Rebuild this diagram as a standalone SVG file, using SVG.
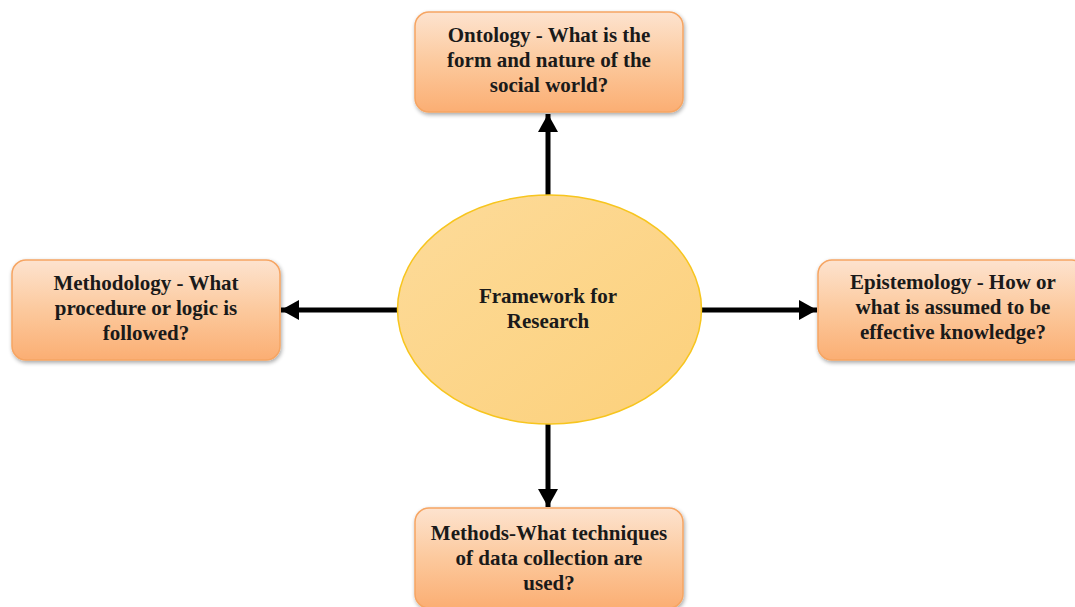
<svg xmlns="http://www.w3.org/2000/svg" width="1075" height="607" viewBox="0 0 1075 607">
<style>
.box{fill:url(#boxGrad);stroke:#f6a563;stroke-width:1.5;filter:url(#shadow)}
.ell{fill:url(#ellGrad);stroke:#f7c51e;stroke-width:1.5}
.lbl{font-family:"Liberation Serif","Times New Roman",serif;font-weight:bold;font-size:21px;fill:#1a1a1a;text-anchor:middle}
.conn{stroke:#000;stroke-width:5;fill:none;marker-end:url(#arrow)}
</style>
<defs>
<linearGradient id="boxGrad" x1="0" y1="0" x2="0" y2="1">
<stop offset="0" stop-color="#fde3cf"/>
<stop offset="0.5" stop-color="#fcc99d"/>
<stop offset="1" stop-color="#fbae73"/>
</linearGradient>
<linearGradient id="ellGrad" x1="0" y1="0" x2="1" y2="1">
<stop offset="0" stop-color="#fddb9a"/>
<stop offset="1" stop-color="#fcd07a"/>
</linearGradient>
<filter id="shadow" x="-10%" y="-10%" width="125%" height="130%">
<feGaussianBlur in="SourceAlpha" stdDeviation="2"/>
<feOffset dx="1" dy="2" result="b"/>
<feComponentTransfer><feFuncA type="linear" slope="0.35"/></feComponentTransfer>
<feMerge><feMergeNode/><feMergeNode in="SourceGraphic"/></feMerge>
</filter>
<marker id="arrow" markerUnits="userSpaceOnUse" markerWidth="20" markerHeight="20" viewBox="0 0 20 20" refX="18" refY="10" orient="auto">
<path d="M0,0 L18,10 L0,20 Z" fill="#000"/>
</marker>
</defs>
<g id="connectors">
<line class="conn" x1="548" y1="195" x2="548" y2="114"/>
<line class="conn" x1="397" y1="310" x2="281" y2="310"/>
<line class="conn" x1="702" y1="310" x2="817" y2="310"/>
<line class="conn" x1="548" y1="424" x2="548" y2="507"/>
</g>
<g id="center">
<ellipse class="ell" cx="549.5" cy="309.5" rx="152" ry="114.5"/>
<text class="lbl" x="548" y="303">Framework for</text>
<text class="lbl" x="548" y="328">Research</text>
</g>
<g id="ontology">
<rect class="box" x="415" y="12" width="268" height="100" rx="14"/>
<text class="lbl" x="549" y="42">Ontology - What is the</text>
<text class="lbl" x="549" y="67">form and nature of the</text>
<text class="lbl" x="549" y="92">social world?</text>
</g>
<g id="methodology">
<rect class="box" x="12" y="260" width="268" height="100" rx="14"/>
<text class="lbl" x="146" y="290">Methodology - What</text>
<text class="lbl" x="146" y="315">procedure or logic is</text>
<text class="lbl" x="146" y="340">followed?</text>
</g>
<g id="epistemology">
<rect class="box" x="818" y="260" width="268" height="100" rx="14"/>
<text class="lbl" x="953" y="289">Epistemology - How or</text>
<text class="lbl" x="953" y="314">what is assumed to be</text>
<text class="lbl" x="953" y="339">effective knowledge?</text>
</g>
<g id="methods">
<rect class="box" x="415" y="508" width="268" height="100" rx="14"/>
<text class="lbl" x="549" y="540">Methods-What techniques</text>
<text class="lbl" x="549" y="565">of data collection are</text>
<text class="lbl" x="549" y="590">used?</text>
</g>
</svg>
